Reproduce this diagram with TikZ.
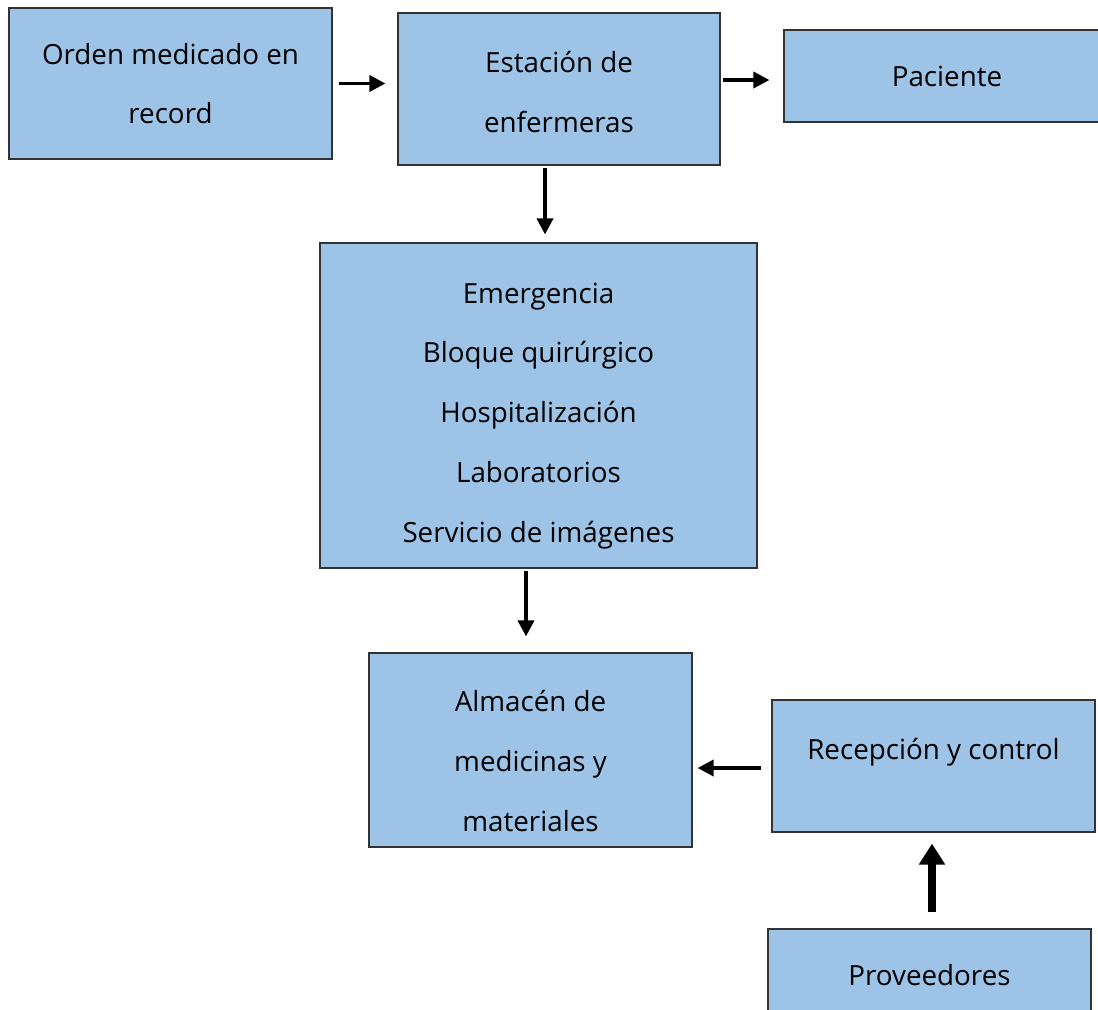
\documentclass[tikz,border=0pt]{standalone}
\usepackage{fontspec}
\setmainfont{Open Sans}
\usetikzlibrary{arrows.meta}
\definecolor{cajaazul}{HTML}{9DC3E6}
% strut that pushes the first line down
\newcommand{\bajar}[1]{\rule{0pt}{#1}}
\tikzset{
  caja/.style={draw=black!80, line width=0.7pt, fill=cajaazul, align=center,
    inner sep=0pt, font=\fontsize{15.8}{34}\selectfont},
  flecha/.style={-{Triangle[length=0.32cm,width=0.32cm]}, line width=2pt},
  flechagruesa/.style={-{Triangle[length=0.42cm,width=0.5cm]}, line width=5pt},
}
\begin{document}
\begin{tikzpicture}[x=0.02cm,y=-0.02cm]
      \useasboundingbox (0,0) rectangle (1098,1009);
      \draw
        (170.5,83.5) node[caja, minimum width=6.46cm, minimum height=3.02cm] (orden){Orden medicado en\\record}
        (559,89) node[caja, minimum width=6.44cm, minimum height=3.04cm] (estacion){\bajar{0.54cm}Estación de\\enfermeras}
        (947,76) node[caja, minimum width=6.52cm, minimum height=1.84cm] (paciente){Paciente}
        (538.5,405.5) node[caja, minimum width=8.74cm, minimum height=6.5cm] (areas){\bajar{0.82cm}Emergencia\\Bloque quirúrgico\\Hospitalización\\Laboratorios\\Servicio de imágenes}
        (530.5,750) node[caja, minimum width=6.46cm, minimum height=3.88cm] (almacen){\bajar{0.86cm}Almacén de\\medicinas y\\materiales}
        (933.5,766) node[caja, minimum width=6.46cm, minimum height=2.64cm, text height=0.4cm, text depth=0.68cm] (recepcion){Recepción y control}
        (929.5,975) node[caja, minimum width=6.46cm, minimum height=1.84cm] (proveedores){Proveedores};
      \begin{scope}[flecha]
        \draw[shorten <=0.12cm, shorten >=0.24cm] (orden.east) -- (orden.east -| estacion.west);
        \draw[shorten <=0.04cm, shorten >=0.28cm] (estacion.east |- 0,80) -- (paciente.west |- 0,80);
        \draw[shorten <=0.04cm, shorten >=0.16cm] (estacion.south -| 545,0) -- (areas.north -| 545,0);
        \draw[shorten <=0.04cm, shorten >=0.32cm] (areas.south -| 526,0) -- (almacen.north -| 526,0);
        \draw[shorten <=0.2cm, shorten >=0.1cm] (recepcion.west |- 0,768) -- (almacen.east |- 0,768);
      \end{scope}
      \draw[flechagruesa, shorten <=0.32cm, shorten >=0.22cm] (proveedores.north -| 932,0) -- (recepcion.south -| 932,0);
    \end{tikzpicture}
\end{document}
